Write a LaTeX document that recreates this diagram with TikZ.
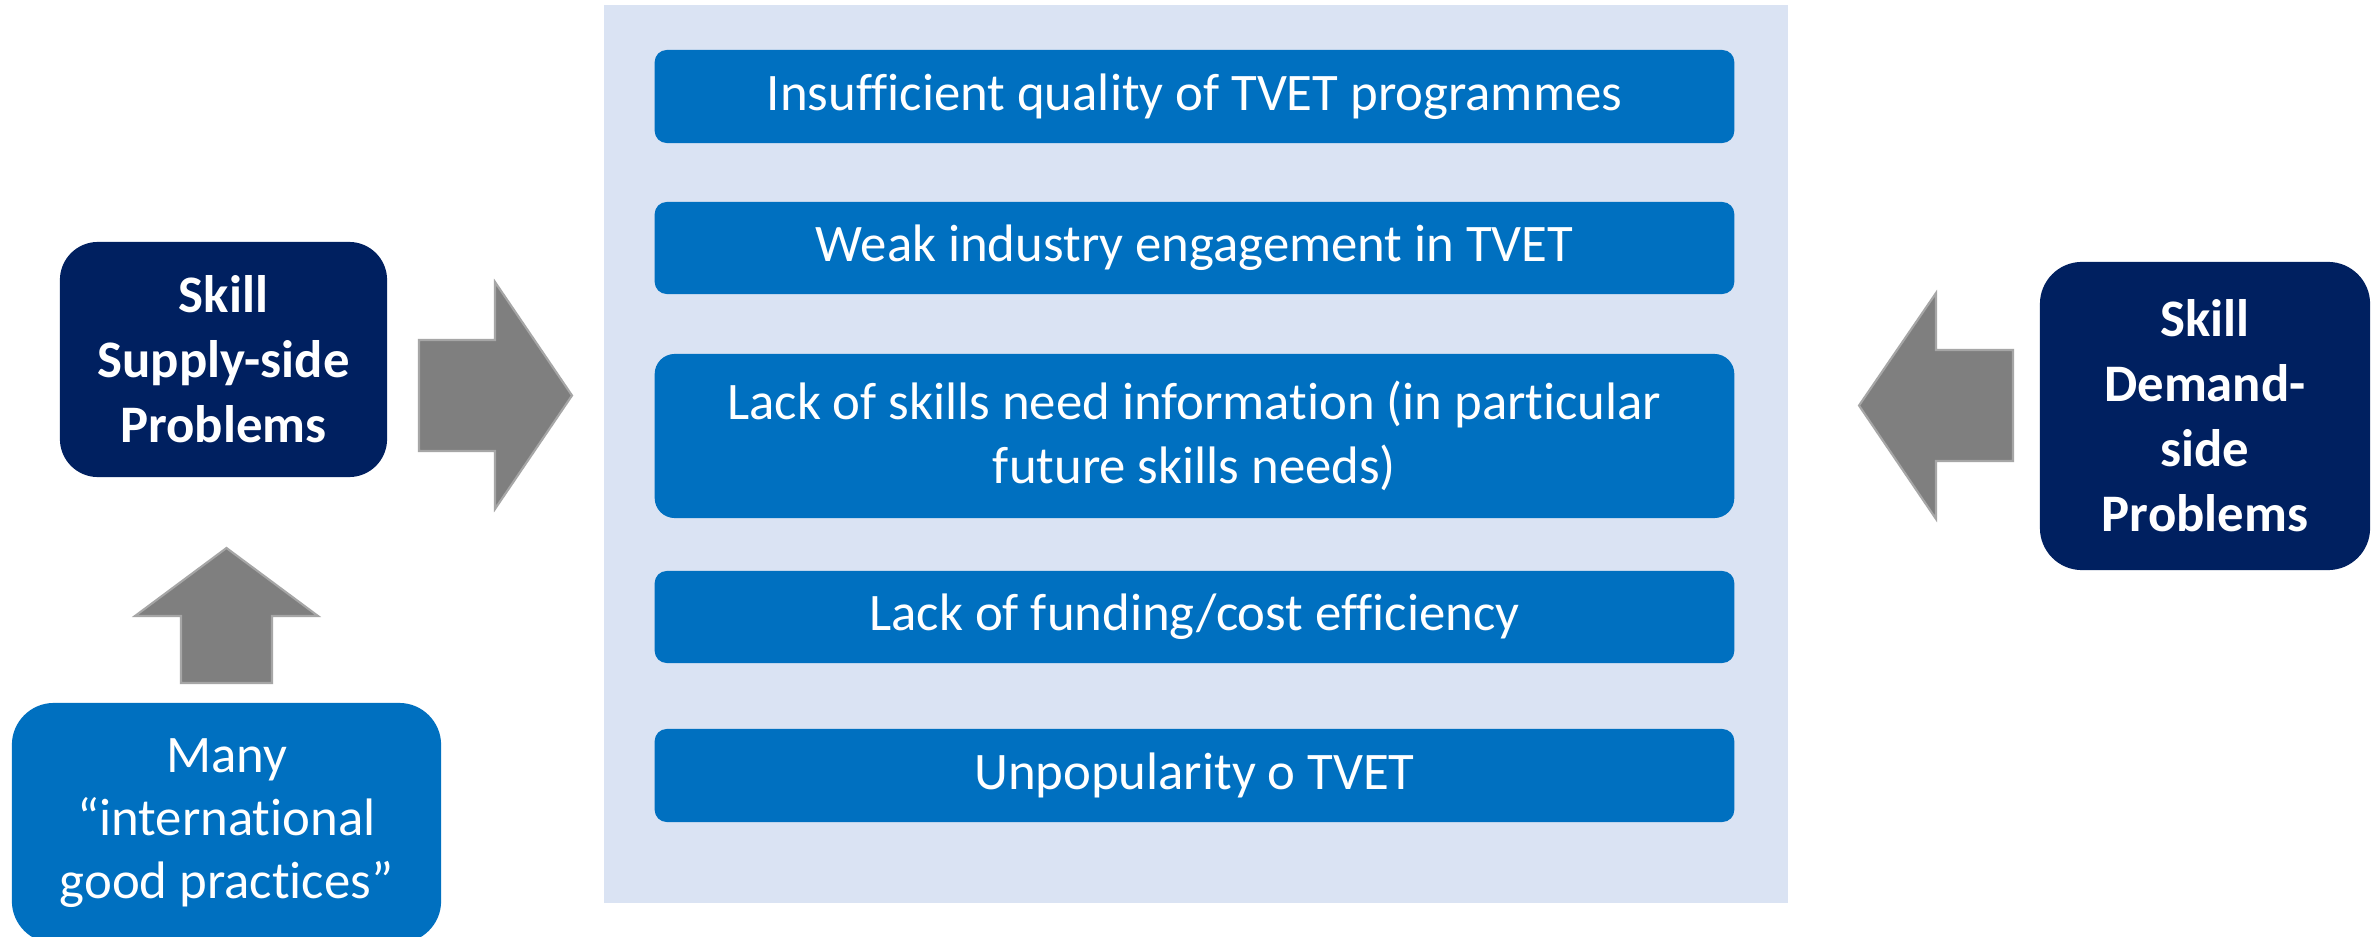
\documentclass[tikz,border=0pt]{standalone}
\usepackage{fontspec}
\setmainfont{Carlito}[Ligatures=NoCommon]
\usepackage{tikz}
\usetikzlibrary{positioning}
\definecolor{navy}{RGB}{0,32,96}
\definecolor{midblue}{RGB}{0,112,192}
\definecolor{paleblue}{RGB}{218,227,243}
\definecolor{arrowgray}{RGB}{127,127,127}
\definecolor{arrowedge}{RGB}{166,166,166}
\tikzset{
  problem/.style={rectangle,rounded corners=0.12cm,fill=midblue,text=white,
    minimum width=10.79cm,align=center,font=\fontsize{15}{18}\selectfont},
  sidebox/.style={rectangle,rounded corners=0.38cm,fill=navy,text=white,
    align=center,font=\fontsize{15}{18.5}\selectfont\bfseries},
  blockarrow/.style={fill=arrowgray,draw=arrowedge,line width=0.6pt,line join=miter}
}
\begin{document}
\begin{tikzpicture}[x=0.01cm,y=-0.01cm]
            \clip(0,0)rectangle(2379,937);
            \fill[white](0,0)rectangle(2379,937);
            % Panel of problems
            \node[rectangle,fill=paleblue,minimum width=11.84cm,minimum height=8.98cm](panel)at(1196,454){};
            \node[problem,minimum height=0.93cm](quality)at(1194.5,96.5){Insufficient quality of TVET programmes};
            \node[problem,minimum height=0.92cm](industry)at(1194.5,248){Weak industry engagement in TVET};
            \node[problem,minimum height=1.64cm,rounded corners=0.2cm](info)at(1194.5,436){Lack of skills need information (in particular\\future skills needs)};
            \node[problem,minimum height=0.92cm](funding)at(1194.5,617){Lack of funding/cost efficiency};
            \node[problem,minimum height=0.93cm](unpop)at(1194.5,775.5){Unpopularity o TVET};
            % Side boxes
            \node[sidebox,minimum width=3.27cm,minimum height=2.35cm](supply)at(223.5,359.5){Skill\\Supply-side\\Problems};
            \node[sidebox,minimum width=3.3cm,minimum height=3.08cm,rounded corners=0.42cm](demand)at(2205,416){Skill\\Demand-\\side\\Problems};
            \node[sidebox,fill=midblue,font=\fontsize{15}{18}\selectfont,minimum width=4.29cm,minimum height=2.4cm,rounded corners=0.42cm](practices)at(226.5,823){Many\\“international\\good practices”};
            % Block arrows
            \filldraw[blockarrow](419,340)--(495,340)--(495,282)--(572,395.5)--(495,509)--(495,451)--(419,451)--cycle;
            \filldraw[blockarrow](2013,350)--(1936,350)--(1936,293)--(1859,405.5)--(1936,519)--(1936,461)--(2013,461)--cycle;
            \filldraw[blockarrow](181,683)--(181,616)--(135,616)--(226.5,548)--(318,616)--(272,616)--(272,683)--cycle;
\end{tikzpicture}
\end{document}
